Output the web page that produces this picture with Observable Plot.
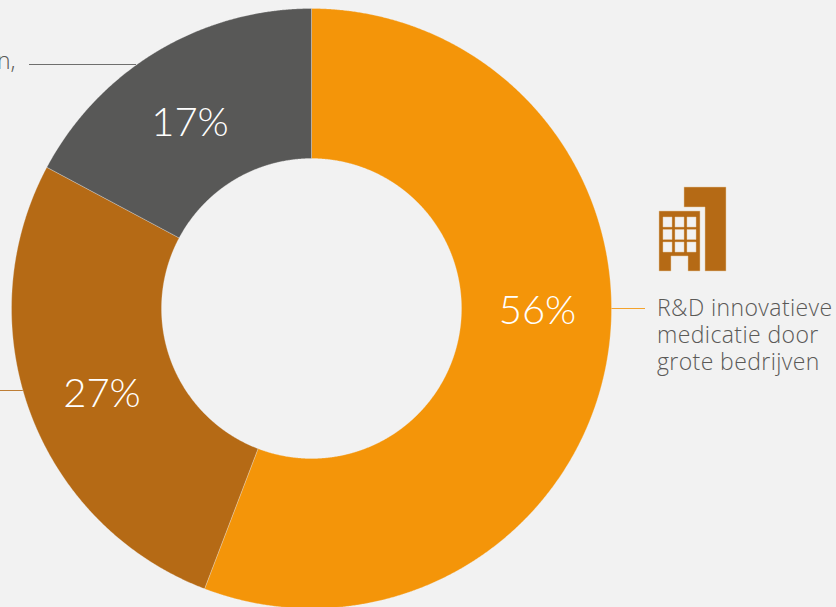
<!DOCTYPE html>
<html>
<head>
<meta charset="utf-8">
<script src="https://cdn.jsdelivr.net/npm/d3@7"></script>
<script src="https://cdn.jsdelivr.net/npm/@observablehq/plot@0.6"></script>
<style>
html,body{margin:0;padding:0;background:#f2f2f2;overflow:hidden}
svg{display:block}
.side-label text{letter-spacing:.4px}
</style>
</head>
<body>
<div id="chart"></div>
<script>
const categories = ["R&D innovatieve medicatie door grote bedrijven", "Overig", "Grijs segment"];
const shares = [55.8, 27.0, 17.2];
const shareLabels = ["56%", "27%", "17%"];
const colors = ["#f49509", "#b56a15", "#585857"];
const rightLabel = "R&D innovatieve\nmedicatie door\ngrote bedrijven";
const clippedLabel = "n,";

const W = 836, H = 607, CX = 311, CY = 308, R = 300, INNER = 0.5;
const px = v => (v - CX) / R;
const py = v => (CY - v) / R;

const arcs = d3.pie().sort(null).value(d => d)(shares);
const polygons = arcs.flatMap((a, i) => {
  const n = Math.ceil((a.endAngle - a.startAngle) / 0.004);
  const ts = d3.range(n + 1).map(k => a.startAngle + (a.endAngle - a.startAngle) * k / n);
  const outer = ts.map(t => ({c: categories[i], x: Math.sin(t), y: Math.cos(t)}));
  const inner = ts.slice().reverse().map(t => ({c: categories[i], x: INNER * Math.sin(t), y: INNER * Math.cos(t)}));
  return [...outer, ...inner, outer[0]];
});

const valueLabels = [
  {t: shareLabels[0], x: px(537), y: py(310.5)},
  {t: shareLabels[1], x: px(101.5), y: py(393.5)},
  {t: shareLabels[2], x: px(189.5), y: py(122.5)}
];
const leaders = [
  {x1: px(611), x2: px(645), y: py(308), c: categories[0]},
  {x1: px(0), x2: px(30), y: py(390), c: categories[1]},
  {x1: px(29), x2: px(136), y: py(64), c: categories[2]}
];

// building pictogram, in its own 67x84 box
const building = "M25 0H67V84H46V20H25Z M0 24H41V84H29V69H12V84H0Z" +
  " M4 30v10h9V30Z M16 30v10h9V30Z M28 30v10h9V30Z" +
  " M4 42.5v10h9v-10Z M16 42.5v10h9v-10Z M28 42.5v10h9v-10Z" +
  " M4 55v10h9V55Z M16 55v10h9V55Z M28 55v10h9V55Z";

const chart = Plot.plot({
  width: W, height: H, margin: 0,
  style: {background: "#f2f2f2", fontFamily: "'Open Sans', sans-serif"},
  x: {domain: [px(0), px(W)], range: [0, W], axis: null},
  y: {domain: [py(H), py(0)], range: [H, 0], axis: null},
  color: {domain: categories, range: colors},
  marks: [
    Plot.ruleY(leaders, {x1: "x1", x2: "x2", y: "y", stroke: "c", strokeOpacity: 0.85, strokeWidth: 1}),
    Plot.line(polygons, {x: "x", y: "y", z: "c", fill: "c", stroke: "#f2f2f2", strokeWidth: 0.3, curve: "linear"}),
    Plot.text(valueLabels, {x: "x", y: "y", text: "t", fill: "#ffffff", fontFamily: "Lato, sans-serif", fontSize: 40, fontWeight: 300, textAnchor: "middle", lineAnchor: "middle"}),
    Plot.text([rightLabel], {x: px(656.5), y: py(334), text: d => d, fill: "#5a5957", fontSize: 23, fontWeight: 300, textAnchor: "start", lineAnchor: "middle", lineHeight: 1.174, className: "side-label"}),
    Plot.text([clippedLabel], {x: px(15), y: py(61), text: d => d, fill: "#5a5957", fontSize: 23, fontWeight: 300, textAnchor: "end", lineAnchor: "middle"}),
    (index, {x, y}) => {
      const s = d3.create("svg:path")
        .attr("d", building)
        .attr("fill", colors[1])
        .attr("fill-rule", "evenodd")
        .attr("stroke", "#e6c9a0")
        .attr("stroke-width", 0.5)
        .attr("transform", `translate(${x(px(659))},${y(py(187))})`);
      return s.node();
    }
  ]
});
document.getElementById("chart").append(chart);
</script>
</body>
</html>
